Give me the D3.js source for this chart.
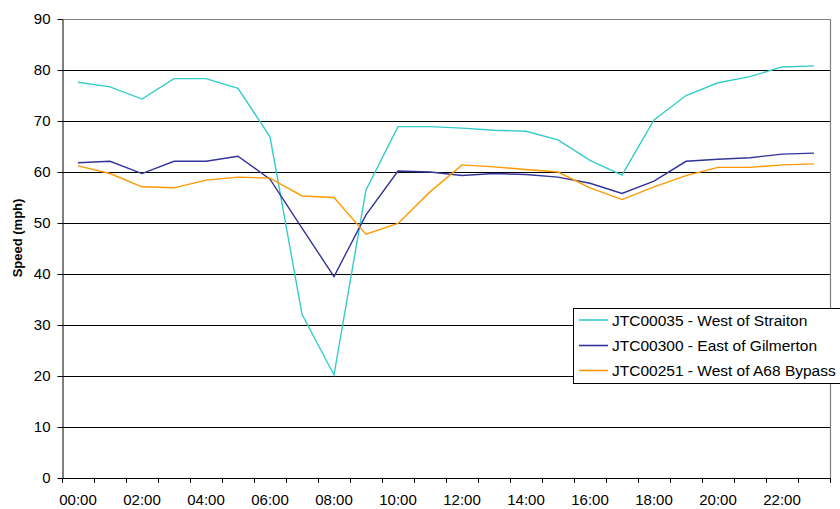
<!DOCTYPE html>
<html>
<head>
<meta charset="utf-8">
<script src="https://cdn.jsdelivr.net/npm/d3@7"></script>
<style>
  html, body { margin: 0; padding: 0; background: #fff; }
  svg { display: block; font-family: "Liberation Sans", Arial, sans-serif; }
</style>
</head>
<body>
<svg id="chart" width="840" height="509"></svg>
<script>
// ---- DATA ----
const hours = ["00:00","01:00","02:00","03:00","04:00","05:00","06:00","07:00","08:00","09:00","10:00","11:00",
               "12:00","13:00","14:00","15:00","16:00","17:00","18:00","19:00","20:00","21:00","22:00","23:00"];
const seriesNames = ["JTC00035 - West of Straiton", "JTC00300 - East of Gilmerton", "JTC00251 - West of A68 Bypass"];
const straiton  = [77.6, 76.7, 74.3, 78.3, 78.3, 76.4, 66.9, 32.1, 20.2, 56.5, 68.9, 68.9,
                   68.6, 68.2, 68.0, 66.3, 62.3, 59.4, 70.2, 75.0, 77.5, 78.7, 80.6, 80.8];
const gilmerton = [61.8, 62.1, 59.7, 62.1, 62.1, 63.1, 58.6, 49.0, 39.5, 51.6, 60.2, 60.0,
                   59.3, 59.7, 59.5, 59.0, 57.8, 55.8, 58.2, 62.1, 62.5, 62.8, 63.5, 63.7];
const a68bypass = [61.2, 59.7, 57.1, 56.9, 58.4, 59.0, 58.8, 55.3, 55.0, 47.8, 49.9, 56.1,
                   61.4, 61.0, 60.5, 60.0, 56.9, 54.6, 57.1, 59.3, 60.9, 60.9, 61.4, 61.6];
const yTicks = [0, 10, 20, 30, 40, 50, 60, 70, 80, 90];
const xTickLabels = ["00:00","02:00","04:00","06:00","08:00","10:00","12:00","14:00","16:00","18:00","20:00","22:00"];
const yTitle = "Speed (mph)";
const colors = ["#33CCCC", "#333399", "#FF9900"];

// ---- LAYOUT ----
const L = 62, R = 830, T = 19, B = 478;
const svg = d3.select("#chart");

const x = d3.scaleBand().domain(hours).range([L, R]).padding(0);
const y = d3.scaleLinear().domain([0, 90]).range([B, T]);

// gridlines
svg.append("g")
  .selectAll("line")
  .data(yTicks.filter(v => v > 0 && v < 90))
  .join("line")
  .attr("x1", L).attr("x2", R)
  .attr("y1", d => Math.round(y(d)) + 0.5).attr("y2", d => Math.round(y(d)) + 0.5)
  .attr("stroke", "#000").attr("stroke-width", 1);

// plot border (top / right gray)
svg.append("path")
  .attr("d", `M${L},${Math.round(y(90)) + 0.5}H${R + 0.5}V${B}`)
  .attr("fill", "none").attr("stroke", "#808080").attr("stroke-width", 1.2);

// y axis
const yAxis = svg.append("g")
  .attr("transform", `translate(${L + 0.5},0)`)
  .call(d3.axisLeft(y).tickValues(yTicks).tickSize(5).tickPadding(7).tickSizeOuter(0));
yAxis.selectAll("text").attr("font-size", 15).attr("fill", "#000")
  .attr("font-family", "'Liberation Sans', Arial, sans-serif");
yAxis.selectAll("line, path").attr("stroke", "#000");

// x axis: ticks at category boundaries
const boundaries = hours.map(h => x(h)).concat([R]);
const xg = svg.append("g");
xg.append("line").attr("x1", L).attr("x2", R + 0.5)
  .attr("y1", B + 0.5).attr("y2", B + 0.5).attr("stroke", "#000");
xg.selectAll("line.tick")
  .data(boundaries)
  .join("line").attr("class", "tick")
  .attr("x1", d => Math.round(d) + 0.5).attr("x2", d => Math.round(d) + 0.5)
  .attr("y1", B).attr("y2", B + 5).attr("stroke", "#000");
xg.selectAll("text")
  .data(xTickLabels)
  .join("text")
  .attr("x", d => x(d) + x.bandwidth() / 2)
  .attr("y", 504.5)
  .attr("text-anchor", "middle")
  .attr("font-size", 15)
  .attr("fill", "#000")
  .text(d => d);

// y title
svg.append("text")
  .attr("transform", `translate(22,238) rotate(-90)`)
  .attr("text-anchor", "middle")
  .attr("font-size", 13)
  .attr("font-weight", "bold")
  .attr("fill", "#000")
  .text(yTitle);

// lines
const allSeries = [straiton, gilmerton, a68bypass];
const line = d3.line()
  .x((d, i) => x(hours[i]) + x.bandwidth() / 2)
  .y(d => y(d));
svg.append("g")
  .selectAll("path")
  .data(allSeries)
  .join("path")
  .attr("d", d => line(d))
  .attr("fill", "none")
  .attr("stroke", (d, i) => colors[i])
  .attr("stroke-width", 1.4)
  .attr("stroke-linejoin", "miter");

// legend
const lg = svg.append("g");
lg.append("rect")
  .attr("x", 573.5).attr("y", 308.5)
  .attr("width", 290).attr("height", 75)
  .attr("fill", "#fff").attr("stroke", "#000").attr("stroke-width", 1);
const rowsY = [320, 345.5, 370.5];
seriesNames.forEach((name, i) => {
  lg.append("line")
    .attr("x1", 579).attr("x2", 608)
    .attr("y1", rowsY[i]).attr("y2", rowsY[i])
    .attr("stroke", colors[i]).attr("stroke-width", 1.6);
  lg.append("text")
    .attr("x", 612).attr("y", rowsY[i] + 5.5)
    .attr("font-size", 15.5).attr("fill", "#000")
    .text(name);
});
</script>
</body>
</html>
